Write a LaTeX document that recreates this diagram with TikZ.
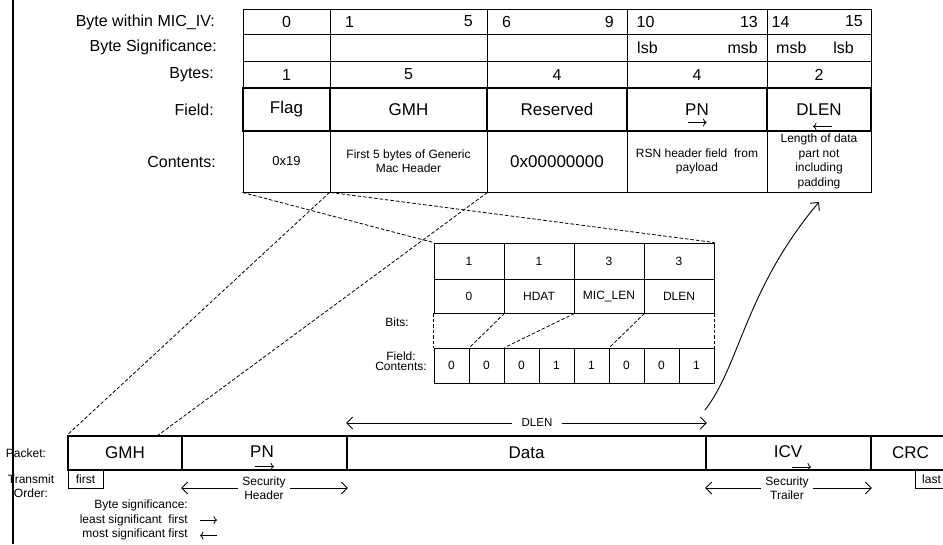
\documentclass[tikz,border=0pt]{standalone}
\usepackage{fontspec}
\setmainfont{Liberation Sans}
\usetikzlibrary{arrows.meta,calc}
\newcommand\fsz[1]{\fontsize{#1}{#1}\selectfont}
\newcommand\mkcell[7]{%
  \pgfmathsetmacro\mkcw{#4-#2}\pgfmathsetmacro\mkch{#5-#3}%
  \pgfmathsetmacro\mkcx{(#2+#4)/2}\pgfmathsetmacro\mkcy{(#3+#5)/2}%
  \node[#6, minimum width=\mkcw pt, minimum height=\mkch pt] (#1) at (\mkcx,\mkcy) {#7};}
\tikzset{
  thincell/.style={draw, line width=0.9pt, inner sep=0pt, align=center},
  thickcell/.style={draw, line width=1.8pt, inner sep=0pt, align=center},
  lab/.style={inner sep=0pt, font=\fsz{16}},
  numtxt/.style={inner sep=0pt, font=\fsz{16}},
  small/.style={inner sep=0pt, align=center, font=\fontsize{12}{14}\selectfont},
  big/.style={font=\fsz{17}},
  dashln/.style={dash pattern=on 3.5pt off 2pt, line width=0.8pt},
  arr/.style={line width=0.9pt, -{Straight Barb[length=6pt,width=12pt]}},
  sym/.style={line width=0.8pt, -{To[length=3.5pt,width=8pt]}},
}
\begin{document}
\begin{tikzpicture}[x=1pt,y=-1pt]
\useasboundingbox (0,0) rectangle (943,544);
\clip (0,0) rectangle (943,544);

% ---------- top table labels
\node[lab, anchor=east] (l0) at (215,22) {Byte within MIC\_IV:};
\node[lab, anchor=east] (l1) at (217,47.5) {Byte Significance:};
\node[lab, anchor=east] (l2) at (214,74.5) {Bytes:};
\node[lab, anchor=east] (l3) at (214,109.5) {Field:};
\node[lab, anchor=east] (l4) at (216,161.5) {Contents:};

% ---------- top table rows 1-3
\mkcell{b0}{243}{9}{330}{34}{thincell, font=\fsz{16}}{0}
\mkcell{b1}{330}{9}{487}{34}{thincell}{}
\mkcell{b2}{487}{9}{627}{34}{thincell}{}
\mkcell{b3}{627}{9}{767}{34}{thincell}{}
\mkcell{b4}{767}{9}{871}{34}{thincell}{}
\node[numtxt, anchor=west] (b1l) at (345,21.5) {1};
\node[numtxt, anchor=east] (b1r) at (473,21.5) {5};
\node[numtxt, anchor=west] (b2l) at (502,21.5) {6};
\node[numtxt, anchor=east] (b2r) at (614,21.5) {9};
\node[numtxt, anchor=west] (b3l) at (636.5,21.5) {10};
\node[numtxt, anchor=east] (b3r) at (758,21.5) {13};
\node[numtxt, anchor=west] (b4l) at (771.5,21.5) {14};
\node[numtxt, anchor=east] (b4r) at (863,21.5) {15};

\mkcell{s0}{243}{34}{330}{61}{thincell}{}
\mkcell{s1}{330}{34}{487}{61}{thincell}{}
\mkcell{s2}{487}{34}{627}{61}{thincell}{}
\mkcell{s3}{627}{34}{767}{61}{thincell}{}
\mkcell{s4}{767}{34}{871}{61}{thincell}{}
\node[numtxt, anchor=west] (s3l) at (637,47.5) {lsb};
\node[numtxt, anchor=east] (s3r) at (758,47.5) {msb};
\node[numtxt, anchor=west] (s4l) at (776,47.5) {msb};
\node[numtxt, anchor=east] (s4r) at (854,47.5) {lsb};

\mkcell{n0}{243}{61}{330}{88}{thincell, font=\fsz{16}}{1}
\mkcell{n1}{330}{61}{487}{88}{thincell, font=\fsz{16}}{5}
\mkcell{n2}{487}{61}{627}{88}{thincell, font=\fsz{16}}{4}
\mkcell{n3}{627}{61}{767}{88}{thincell, font=\fsz{16}}{4}
\mkcell{n4}{767}{61}{871}{88}{thincell, font=\fsz{16}}{2}

% ---------- contents row
\mkcell{c0}{243}{131}{330}{192}{thincell, font=\fontsize{13}{14}\selectfont}{0x19}
\mkcell{c1}{330}{131}{487}{192}{thincell, font=\fontsize{12}{14}\selectfont}{First 5 bytes of Generic\\Mac Header}
\mkcell{c2}{487}{131}{627}{192}{thincell, big}{0x00000000}
\mkcell{c3}{627}{131}{767}{192}{thincell, font=\fontsize{12}{14}\selectfont}{RSN header field\ \ from\\payload}
\mkcell{c4}{767}{131}{871}{192}{thincell, font=\fontsize{12}{14.5}\selectfont}{Length of data\\part not\\including\\padding}

% ---------- field row (thick)
\mkcell{f0}{243}{88}{330}{131}{thickcell, big}{Flag}
\mkcell{f1}{330}{88}{487}{131}{thickcell, big}{GMH}
\mkcell{f2}{487}{88}{627}{131}{thickcell, big}{Reserved}
\mkcell{f3}{627}{88}{767}{131}{thickcell, big}{PN}
\mkcell{f4}{767}{88}{871}{131}{thickcell, big}{DLEN}
\draw[sym] ($(f3.center)+(-9.5,13)$) -- ($(f3.center)+(9.5,13)$);
\draw[sym] ($(f4.center)+(13,17)$) -- ($(f4.center)+(-6,17)$);

% ---------- bit table
\node[inner sep=0pt, anchor=east, font=\fontsize{12}{14}\selectfont] (bitsl) at (409,322) {Bits:};
\node[inner sep=0pt, align=center, font=\fontsize{12}{10}\selectfont] (fcl) at (401,361) {Field:\\Contents:};
\mkcell{t0}{434}{243}{504}{279}{thincell, font=\fsz{12}}{1}
\mkcell{t1}{504}{243}{574}{279}{thincell, font=\fsz{12}}{1}
\mkcell{t2}{574}{243}{644}{279}{thincell, font=\fsz{12}}{3}
\mkcell{t3}{644}{243}{714}{279}{thincell, font=\fsz{12}}{3}
\mkcell{u0}{434}{279}{504}{313}{thincell, font=\fsz{12}}{0}
\mkcell{u1}{504}{279}{574}{313}{thincell, font=\fsz{12}}{HDAT}
\mkcell{u2}{574}{279}{644}{313}{thincell, font=\fsz{12}}{MIC\_LEN}
\mkcell{u3}{644}{279}{714}{313}{thincell, font=\fsz{12}}{DLEN}
\foreach \v [count=\i from 0] in {0,0,0,1,1,0,0,1} {
  \pgfmathsetmacro\xa{434+35*\i}\pgfmathsetmacro\xb{469+35*\i}
  \mkcell{bit\i}{\xa}{348}{\xb}{383}{thincell, font=\fsz{12}}{\v}
}
\draw[dashln] (u0.south west) -- (bit0.north west);
\draw[dashln] (u3.south east) -- (bit7.north east);
\draw[dashln] (u0.south east) -- (bit0.north east);
\draw[dashln] (u1.south east) -- (bit1.north east);
\draw[dashln] (u2.south east) -- (bit4.north east);

% ---------- packet
\node[inner sep=0pt, font=\fsz{12}] (pkl) at (26,453) {Packet:};
\node[inner sep=0pt, align=center, font=\fontsize{12}{14}\selectfont] (tol) at (31,486) {Transmit\\Order:};
\mkcell{p0}{68}{436}{182}{470}{thickcell, big}{GMH}
\mkcell{p1}{182}{436}{347}{470}{thickcell, big}{}
\mkcell{p2}{347}{436}{706}{470}{thickcell, big}{Data}
\mkcell{p3}{706}{436}{871}{470}{thickcell, big}{}
\mkcell{p4}{871}{436}{950}{470}{thickcell, big}{CRC}
\node[inner sep=0pt, big] (p1t) at (262,452) {PN};
\node[inner sep=0pt, big] (p3t) at (788,452) {ICV};
\draw[sym] ($(p1.center)+(-9.5,13.5)$) -- ($(p1.center)+(9.5,13.5)$);
\draw[sym] ($(p3.center)+(3.5,14)$) -- ($(p3.center)+(22.5,14)$);
\mkcell{first}{68}{470}{103}{488}{thincell, font=\fsz{12}}{first}
\mkcell{last}{915}{470}{965}{488}{thincell}{}
\node[inner sep=0pt, anchor=west, font=\fsz{12}] (lastt) at (922,479) {last};

\node[small, inner xsep=4pt] (sh) at (264,488) {Security\\Header};
\draw[arr] (sh.west) -- (sh.west -| p1.west);
\draw[arr] (sh.east) -- (sh.east -| p1.east);
\node[small, inner xsep=4pt] (st) at (787,488) {Security\\Trailer};
\draw[arr] (st.west) -- (st.west -| p3.west);
\draw[arr] (st.east) -- (st.east -| p3.east);

\node[inner sep=0pt, inner xsep=9pt, font=\fsz{11.5}] (dl) at (537,423) {DLEN};
\draw[arr] (dl.west) -- (dl.west -| p2.west);
\draw[arr] (dl.east) -- (dl.east -| p2.east);

\node[inner sep=0pt, anchor=east, align=right, font=\fontsize{12}{14.5}\selectfont] (bsig) at (188,520) {Byte significance:\\least significant\ \ first\\most significant first};
\draw[sym] ($(bsig.east)+(12,0)$) -- ($(bsig.east)+(29,0)$);
\draw[sym] ($(bsig.east)+(29,15.5)$) -- ($(bsig.east)+(12,15.5)$);

% ---------- dashed expansion lines
\coordinate (gB) at (157,436);
\draw[dashln] (c0.south west) -- (t0.north west);
\draw[dashln] (c0.south east) -- (t3.north east);
\draw[dashln] (c1.south west) -- (p0.north west);
\draw[dashln] (c1.south east) -- (gB);

% ---------- curved arrow
\coordinate (cs) at (705,410);
\coordinate (ce) at (819,202);
\draw[arr] (cs) .. controls (740,365) and (745,290) .. (ce);

% ---------- left rule
\draw[line width=1.4pt] (13,0) -- (13,544);
\end{tikzpicture}
\end{document}
